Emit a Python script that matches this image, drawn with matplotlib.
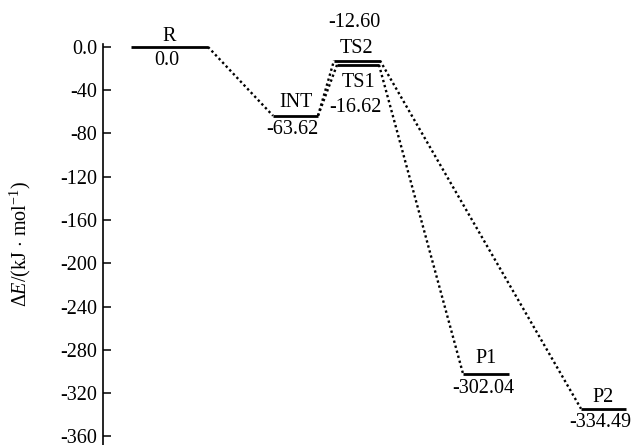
import matplotlib.pyplot as plt

plt.rcParams['font.family'] = ['Liberation Serif', 'DejaVu Serif']
plt.rcParams['mathtext.fontset'] = 'custom'
plt.rcParams['mathtext.rm'] = 'Liberation Serif'
plt.rcParams['mathtext.it'] = 'Liberation Serif:italic'

# energy levels (kJ/mol)
stages = ['R', 'INT', 'TS1', 'TS2', 'P1', 'P2']
energies = [0.0, -63.62, -16.62, -12.60, -302.04, -334.49]
value_labels = ['0.0', '-63.62', '-16.62', '-12.60', '-302.04', '-334.49']
# reaction paths: (from stage, to stage)
paths = [('R', 'INT'), ('INT', 'TS1'), ('INT', 'TS2'), ('TS1', 'P1'), ('TS2', 'P2')]

yticks = [0, -40, -80, -120, -160, -200, -240, -280, -320, -360]
ytick_labels = ['0.0', '-40', '-80', '-120', '-160', '-200', '-240', '-280', '-320', '-360']

# horizontal extent of each level on the x axis (layout only)
spans = {'R': (28, 105), 'INT': (170, 215), 'TS1': (234, 276), 'TS2': (231, 277),
         'P1': (360, 406), 'P2': (478, 523)}
# label offsets in pixels (name, value); negative = above
offsets = {'R': (-10, 14), 'INT': (-13, 14), 'TS1': (18, 43), 'TS2': (-12, -38),
           'P1': (-15, 15), 'P2': (-11, 14)}
fs = 14.5

fig = plt.figure(figsize=(6.36, 4.45), dpi=100)
ax = fig.add_axes([103 / 636, 0.0, 533 / 636, 1 - 44 / 445])

E = dict(zip(stages, energies))
for a, b in paths:
    ax.plot([spans[a][1], spans[b][0]], [E[a], E[b]], color='black', lw=1.7,
            linestyle=(0, (1, 1.2)), solid_capstyle='butt')

for s, e, v in zip(stages, energies, value_labels):
    x0, x1 = spans[s]
    ax.plot([x0, x1], [e, e], color='black', lw=2.0, solid_capstyle='butt')
    xc = (x0 + x1) / 2
    dn, dv = offsets[s]
    ax.annotate(s, (xc, e), xytext=(0, -dn * 0.72), textcoords='offset points',
                ha='center', va='center', fontsize=fs)
    ax.annotate(v, (xc - 3, e), xytext=(0, -dv * 0.72), textcoords='offset points',
                ha='center', va='center', fontsize=fs)

ax.set_xlim(0, 533)
ax.set_ylim(-368, 2.7)
ax.set_yticks(yticks)
ax.set_yticklabels(ytick_labels, fontsize=fs)
ax.tick_params(axis='y', direction='in', length=6, width=1.1, pad=4)
ax.set_xticks([])
for side in ['top', 'right', 'bottom']:
    ax.spines[side].set_visible(False)
ax.spines['left'].set_linewidth(1.2)
ax.set_ylabel(r'$\Delta E$/(kJ $\cdot$ mol$^{-1}$)', fontsize=fs)
ax.yaxis.set_label_coords(-70 / 533, 0.5)

fig.savefig('out.png', dpi=100)
